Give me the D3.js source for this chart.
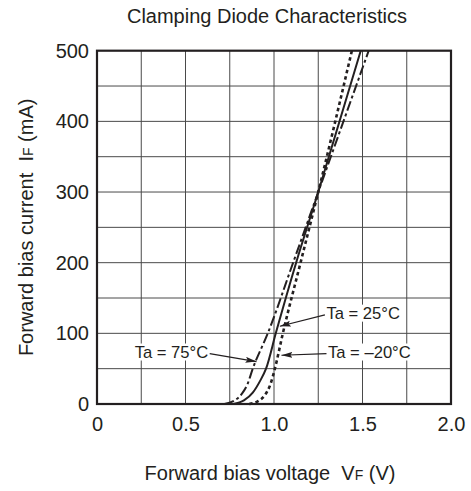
<!DOCTYPE html>
<html>
<head>
<meta charset="utf-8">
<script src="https://cdn.jsdelivr.net/npm/d3@7"></script>
<style>
  body { margin: 0; background: #fff; }
  svg { display: block; }
</style>
</head>
<body>
<div id="chart"></div>
<script>
"use strict";

// Forward voltage (V) / forward current (mA)
const vf_75 = [0.72, 0.77, 0.82, 0.85, 0.88, 0.965, 1.108, 1.25, 1.535];
const if_75 = [0, 4, 15, 28, 50, 100, 200, 300, 500];

const vf_25 = [0.77, 0.83, 0.88, 0.92, 0.955, 1.01, 1.125, 1.25, 1.49];
const if_25 = [0, 5, 16, 32, 50, 100, 200, 300, 500];

const vf_m20 = [0.86, 0.91, 0.95, 0.98, 1.005, 1.05, 1.15, 1.25, 1.44];
const if_m20 = [0, 4, 13, 28, 50, 100, 200, 300, 500];

const x_ticks = [0, 0.5, 1.0, 1.5, 2.0];
const x_tick_labels = ["0", "0.5", "1.0", "1.5", "2.0"];
const y_ticks = [0, 100, 200, 300, 400, 500];

// label text, label anchor point and arrow tip, in data units
const notes = [
    { text: "Ta = 25°C",  side: "start", at: [1.296, 129], tip: [1.033, 110] },
    { text: "Ta = –20°C", side: "start", at: [1.305, 74],  tip: [1.042, 69] },
    { text: "Ta = 75°C",  side: "end",   at: [0.628, 74],  tip: [0.901, 60] },
];

const font = "'Liberation Sans', Arial, Helvetica, sans-serif";
const ink = "#231f20";

const width = 471, height = 491;
const margin = {top: 50.7, right: 20, bottom: 87, left: 97};

const x = d3.scaleLinear([0, 2], [margin.left, width - margin.right]);
const y = d3.scaleLinear([0, 500], [height - margin.bottom, margin.top]);

const svg = d3.select("#chart")
    .append("svg")
    .attr("width", width)
    .attr("height", height)
    .style("font-family", font);

svg.append("defs").append("marker")
    .attr("id", "head")
    .attr("markerUnits", "userSpaceOnUse")
    .attr("markerWidth", 12)
    .attr("markerHeight", 6)
    .attr("refX", 11)
    .attr("refY", 3)
    .attr("orient", "auto")
  .append("path")
    .attr("d", "M0,0L11,3L0,6L2,3Z")
    .attr("fill", ink);

// grid
const grid = svg.append("g")
    .attr("stroke", "#4a4a4a")
    .attr("stroke-width", 1);
grid.selectAll("line.v")
    .data(d3.range(0.25, 2, 0.25))
    .join("line")
    .attr("x1", d => x(d)).attr("x2", d => x(d))
    .attr("y1", y(0)).attr("y2", y(500));
grid.selectAll("line.h")
    .data(d3.range(50, 500, 50))
    .join("line")
    .attr("x1", x(0)).attr("x2", x(2))
    .attr("y1", d => y(d)).attr("y2", d => y(d));

// axes (labels only, frame drawn separately)
const xAxis = d3.axisBottom(x)
    .tickValues(x_ticks)
    .tickFormat((d, i) => x_tick_labels[i])
    .tickSize(0)
    .tickPadding(13);
svg.append("g")
    .attr("transform", `translate(0,${y(0)})`)
    .call(xAxis)
    .call(g => g.select(".domain").remove())
    .call(g => g.selectAll("text")
        .attr("fill", ink)
        .style("font-family", font)
        .style("font-size", "20px"));

const yAxis = d3.axisLeft(y)
    .tickValues(y_ticks)
    .tickSize(0)
    .tickPadding(8);
svg.append("g")
    .attr("transform", `translate(${x(0)},0)`)
    .call(yAxis)
    .call(g => g.select(".domain").remove())
    .call(g => g.selectAll("text")
        .attr("fill", ink)
        .style("font-family", font)
        .style("font-size", "20px"));

// curves
const line = d3.line()
    .x(d => x(d[0]))
    .y(d => y(d[1]))
    .curve(d3.curveMonotoneX);

const series = [
    { v: vf_75,  i: if_75,  dash: "10,3,3,3", w: 2 },
    { v: vf_25,  i: if_25,  dash: null,       w: 2 },
    { v: vf_m20, i: if_m20, dash: "3.5,3",    w: 2.6 },
];

svg.append("g")
    .attr("fill", "none")
    .attr("stroke", ink)
    .selectAll("path")
    .data(series)
    .join("path")
    .attr("stroke-width", d => d.w)
    .attr("stroke-dasharray", d => d.dash)
    .attr("d", d => line(d3.zip(d.v, d.i)));

// frame
svg.append("rect")
    .attr("x", x(0))
    .attr("y", y(500))
    .attr("width", x(2) - x(0))
    .attr("height", y(0) - y(500))
    .attr("fill", "none")
    .attr("stroke", ink)
    .attr("stroke-width", 2.2);

// annotations
const note = svg.append("g").selectAll("g")
    .data(notes)
    .join("g");
note.append("line")
    .attr("x1", d => x(d.at[0]) + (d.side === "start" ? -1.5 : 1.5))
    .attr("y1", d => y(d.at[1]) + 2)
    .attr("x2", d => x(d.tip[0]))
    .attr("y2", d => y(d.tip[1]))
    .attr("stroke", ink)
    .attr("stroke-width", 1.2)
    .attr("marker-end", "url(#head)");
note.append("rect")
    .attr("fill", "#fff");
note.append("text")
    .attr("x", d => x(d.at[0]))
    .attr("y", d => y(d.at[1]))
    .attr("dy", "0.35em")
    .attr("text-anchor", d => d.side)
    .attr("fill", ink)
    .style("font-size", "16.6px")
    .text(d => d.text);
note.each(function() {
    const g = d3.select(this);
    const b = g.select("text").node().getBBox();
    g.select("rect")
        .attr("x", b.x - 1).attr("y", b.y + 1)
        .attr("width", b.width + 2).attr("height", b.height - 2);
});

// titles
svg.append("text")
    .attr("x", 267)
    .attr("y", 23)
    .attr("text-anchor", "middle")
    .attr("fill", ink)
    .style("font-size", "20px")
    .text("Clamping Diode Characteristics");

const xlab = svg.append("text")
    .attr("x", 270)
    .attr("y", 480)
    .attr("text-anchor", "middle")
    .attr("fill", ink)
    .style("font-size", "20px");
xlab.append("tspan").text("Forward bias voltage\u00a0 V");
xlab.append("tspan").style("font-size", "14px").text("F");
xlab.append("tspan").text(" (V)");

const ylab = svg.append("text")
    .attr("transform", `translate(33,${(y(0) + y(500)) / 2}) rotate(-90)`)
    .attr("text-anchor", "middle")
    .attr("fill", ink)
    .style("font-size", "20px");
ylab.append("tspan").text("Forward bias current\u00a0 I");
ylab.append("tspan").style("font-size", "14px").text("F");
ylab.append("tspan").text(" (mA)");
</script>
</body>
</html>
